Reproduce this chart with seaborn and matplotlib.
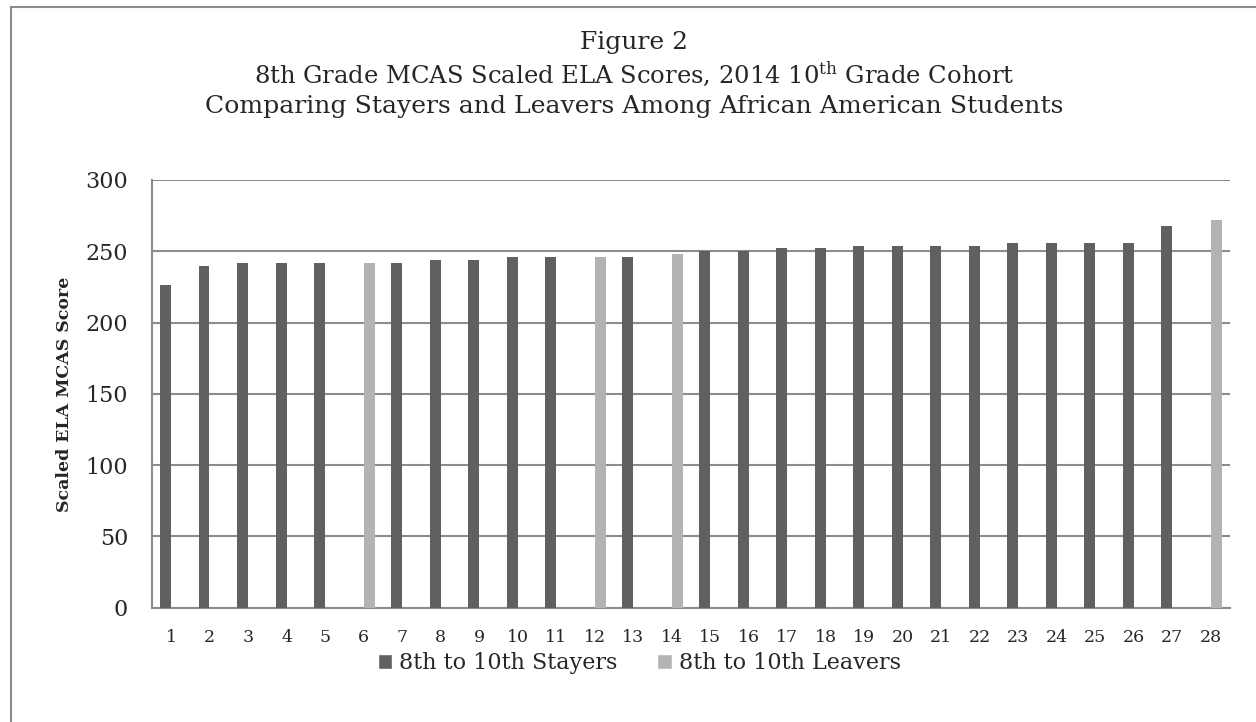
import pandas as pd
import matplotlib.pyplot as plt
from matplotlib.lines import Line2D
from matplotlib.patches import Patch
import seaborn as sns

sns.set_style("white")
plt.rcParams['font.family'] = ['DejaVu Serif']
plt.rcParams['mathtext.fontset'] = 'dejavuserif'

# data (None = no bar for that series)
students = [str(i) for i in range(1, 29)]
stayers = [226, 240, 242, 242, 242, None, 242, 244, 244, 246, 246, None, 246, None,
           250, 250, 252, 252, 254, 254, 254, 254, 256, 256, 256, 256, 268, None]
leavers = [None, None, None, None, None, 242, None, None, None, None, None, 246, None, 248,
           None, None, None, None, None, None, None, None, None, None, None, None, None, 272]
series_names = ['8th to 10th Stayers', '8th to 10th Leavers']
y_ticks = [0, 50, 100, 150, 200, 250, 300]

colours = ['#606060', '#b3b3b3']
grid_col = '#8c8c8c'

# long form table for seaborn
rows = []
for s, st, lv in zip(students, stayers, leavers):
    if st is not None:
        rows.append({'student': s, 'group': series_names[0], 'score': st})
    if lv is not None:
        rows.append({'student': s, 'group': series_names[1], 'score': lv})
df = pd.DataFrame(rows)

fig = plt.figure(figsize=(12.56, 7.22), dpi=100)
ax = fig.add_axes([0.1208, 0.1583, 0.8585, 0.5924])

sns.barplot(data=df, x='student', y='score', hue='group', order=students,
            hue_order=series_names, palette=colours, width=0.57, saturation=1,
            dodge=True, linewidth=0, legend=False, ax=ax, zorder=3)

ax.set_ylim(0, 300)
ax.set_xlim(-0.5, len(students) - 0.5)
ax.set_yticks(y_ticks)
ax.yaxis.grid(True, color=grid_col, lw=1.5, zorder=0)
ax.set_axisbelow(True)

# ticks: labels in category centres, tick marks on category boundaries
ax.set_xticks(range(len(students)))
ax.set_xticklabels(students, fontsize=12.5)
ax.set_xticks([i - 0.5 for i in range(len(students) + 1)], minor=True)
ax.tick_params(axis='x', which='major', length=0, pad=15)
ax.tick_params(axis='x', which='minor', length=4, width=1.5, color=grid_col, direction='out')
ax.tick_params(axis='y', length=6, width=1.5, color=grid_col, direction='out', labelsize=16, pad=11)

for side in ['top', 'right']:
    ax.spines[side].set_visible(False)
for side in ['left', 'bottom']:
    ax.spines[side].set_color(grid_col)
    ax.spines[side].set_linewidth(1.5)

ax.set_xlabel('')
ax.set_ylabel('Scaled ELA MCAS Score', fontsize=12.5, fontweight='bold')
ax.yaxis.set_label_coords(-0.073, 0.5)

# titles
fig.text(0.505, 1 - 42 / 722, 'Figure 2', ha='center', va='center', fontsize=18)
fig.text(0.505, 1 - 74 / 722, r'8th Grade MCAS Scaled ELA Scores, 2014 10$^{\mathrm{th}}$ Grade Cohort',
         ha='center', va='center', fontsize=17.5)
fig.text(0.505, 1 - 106 / 722, 'Comparing Stayers and Leavers Among African American Students',
         ha='center', va='center', fontsize=18.1)

# legend
handles = [Patch(facecolor=c, label=n) for c, n in zip(colours, series_names)]
fig.legend(handles=handles, loc='center', bbox_to_anchor=(0.509, 1 - 663 / 722), ncol=2,
           frameon=False, fontsize=16, handlelength=0.65, handleheight=0.65,
           handletextpad=0.3, columnspacing=1.8)

# outer chart border (top and left visible in the crop)
fig.add_artist(Line2D([11 / 1256, 1], [1 - 7 / 722, 1 - 7 / 722], color=grid_col, lw=1.5))
fig.add_artist(Line2D([11 / 1256, 11 / 1256], [0, 1 - 7 / 722], color=grid_col, lw=1.5))

fig.savefig('out.png', dpi=100)
